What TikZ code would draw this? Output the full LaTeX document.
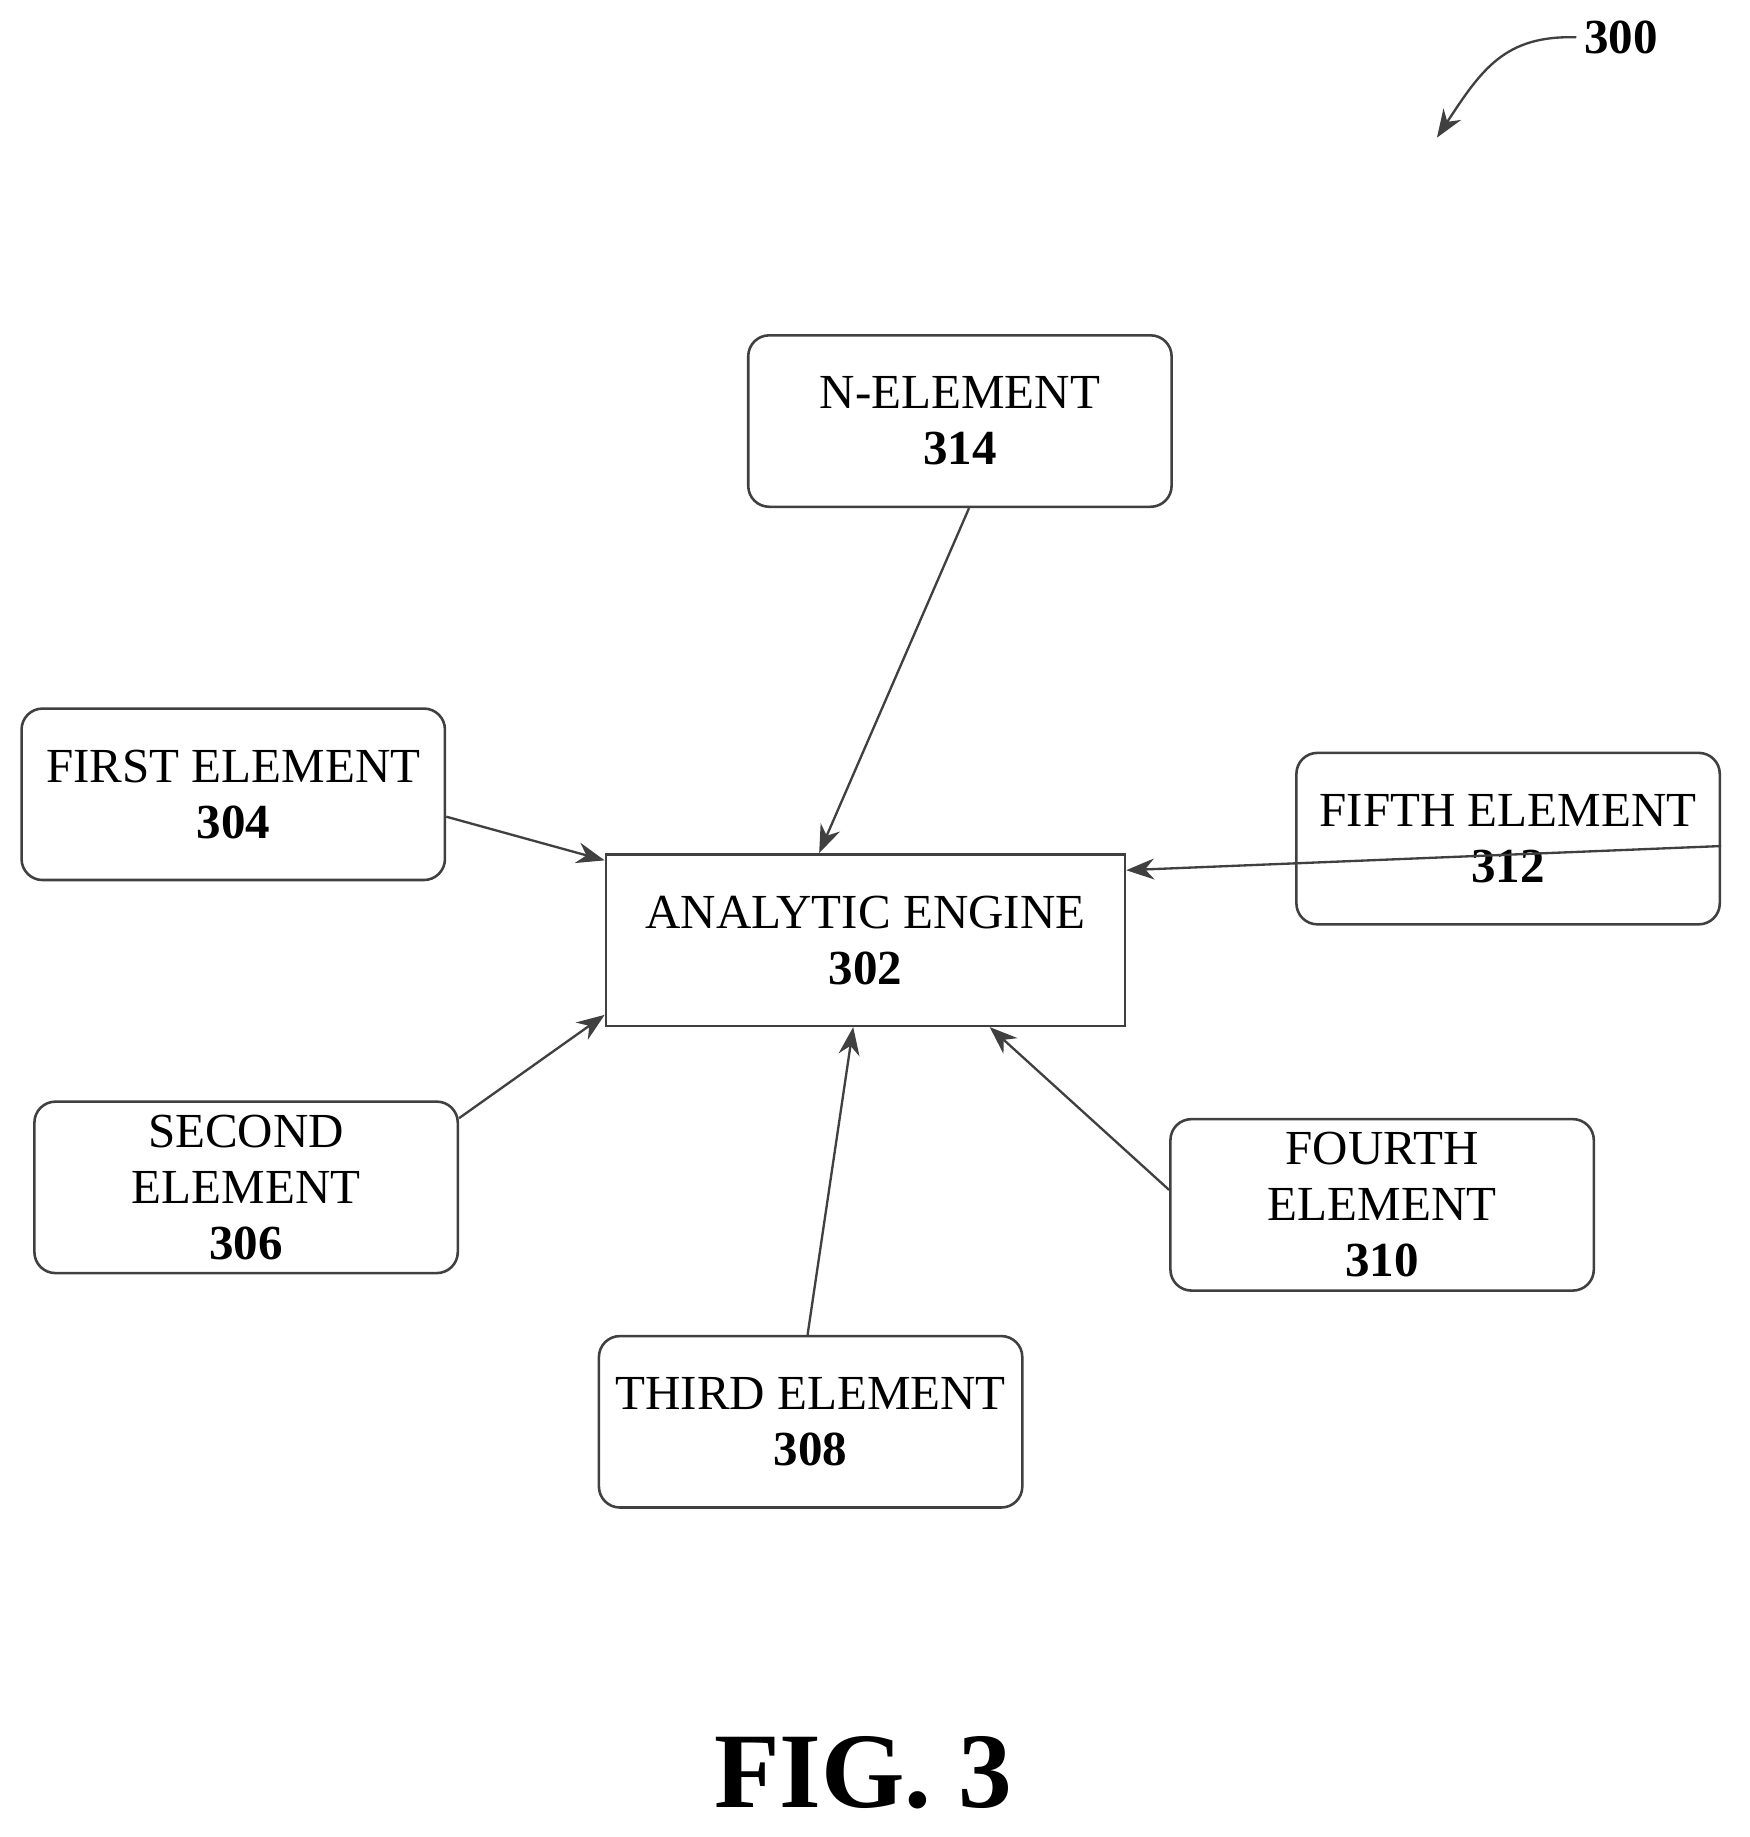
\documentclass[tikz,border=0pt]{standalone}
\usepackage{fontspec}
\setmainfont{Liberation Serif}
\usetikzlibrary{arrows.meta}
\begin{document}
\begin{tikzpicture}[x=0.5pt,y=0.5pt,yscale=-1,
    elem/.style={draw=black!75, line width=1.1pt, rounded corners=9pt, minimum width=181.5pt, minimum height=73.5pt, align=center, font=\fontsize{21}{24}\selectfont},
    link/.style={draw=black!75, line width=1pt, -{Stealth[length=12pt,width=9pt]}}]
    \useasboundingbox (0,0) rectangle (1500,1575);

    % Engine
    \node [elem, rounded corners=0pt, minimum width=222.5pt] (ae) at (742,806) {ANALYTIC ENGINE\\\textbf{302}};
    % Elements
    \node [elem] (nel) at (823,361) {N-ELEMENT\\\textbf{314}};
    \node [elem] (first) at (200,681) {FIRST ELEMENT\\\textbf{304}};
    \node [elem] (fifth) at (1293,719) {FIFTH ELEMENT\\\textbf{312}};
    \node [elem] (second) at (211,1018) {SECOND\\ELEMENT\\\textbf{306}};
    \node [elem] (fourth) at (1185,1033) {FOURTH\\ELEMENT\\\textbf{310}};
    \node [elem] (third) at (695,1219) {THIRD ELEMENT\\\textbf{308}};

    % Arrows
    \draw [link] (nel.-84) -- (ae.118);
    \draw [link] (first.-6) -- (ae.163);
    \draw [link] (second.18) -- (ae.-164);
    \draw [link] (third.92) -- (ae.-98);
    \draw [link] (fourth.176) -- (ae.-35);
    \draw [link] (fifth.-2) -- (ae.15);

    % Reference label
    \node [font=\fontsize{21}{24}\selectfont\bfseries] (ref) at (1390,32) {300};
    \draw [link] (ref.west) .. controls (1290,30) and (1270,60) .. (1232,118);

    % Caption
    \node [font=\fontsize{46}{50}\selectfont\bfseries] (cap) at (740,1520) {FIG. 3};
\end{tikzpicture}
\end{document}
